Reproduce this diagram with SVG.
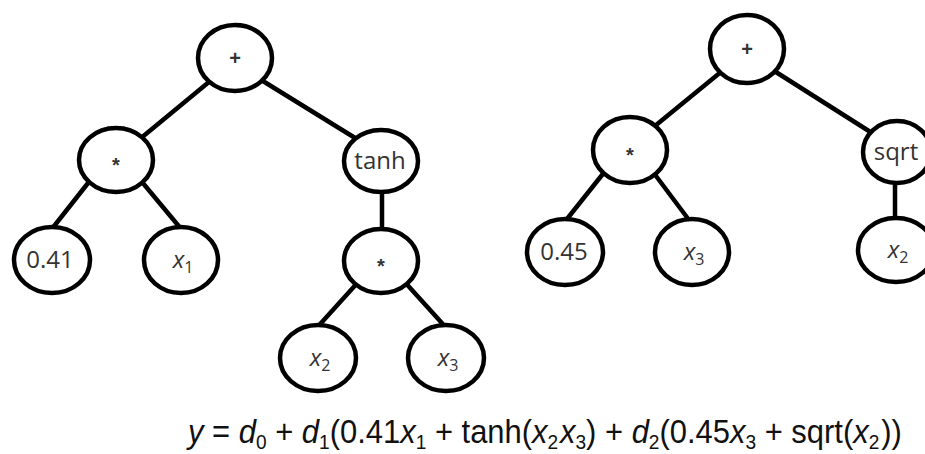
<svg xmlns="http://www.w3.org/2000/svg" width="925" height="454" viewBox="0 0 925 454">
<style>
.edge{stroke:#000;stroke-width:4.5;stroke-linecap:round;fill:none}
.node{fill:#fff;stroke:#000;stroke-width:4.5}
.lbl{font-family:"Open Sans","Liberation Sans",sans-serif;font-size:24px;fill:#333;text-anchor:middle}
.op{font-family:"Liberation Sans",sans-serif;font-size:20px;font-weight:bold;fill:#333;text-anchor:middle}
.var{font-style:italic}
.sub{font-size:16px;font-style:normal}
.eq{font-family:"Liberation Sans",Arial,sans-serif;font-size:34px;fill:#111}
.eqs{font-size:21px;font-style:normal}
</style>
<rect width="925" height="454" fill="#fff"/>
<g id="connectors">
<line class="edge" x1="215" y1="77" x2="135" y2="143"/>
<line class="edge" x1="258" y1="78" x2="360" y2="141"/>
<line class="edge" x1="92" y1="178" x2="51" y2="230"/>
<line class="edge" x1="137" y1="176" x2="182" y2="230"/>
<line class="edge" x1="382" y1="185" x2="382" y2="235"/>
<line class="edge" x1="360" y1="280" x2="313" y2="332"/>
<line class="edge" x1="402" y1="279" x2="450" y2="332"/>
<line class="edge" x1="727" y1="67" x2="650" y2="130"/>
<line class="edge" x1="768" y1="67" x2="872" y2="133"/>
<line class="edge" x1="606" y1="170" x2="563" y2="224"/>
<line class="edge" x1="650" y1="168" x2="692" y2="224"/>
<line class="edge" x1="895" y1="175" x2="895" y2="225"/>
</g>
<g id="plus1"><ellipse class="node" cx="235" cy="58" rx="37" ry="33"/><text class="op" x="235" y="65">+</text></g>
<g id="mul1"><ellipse class="node" cx="116" cy="160" rx="37" ry="32"/><text class="op" x="116" y="172">*</text></g>
<g id="tanh"><ellipse class="node" cx="381" cy="161" rx="37" ry="31"/><text class="lbl" x="380" y="169">tanh</text></g>
<g id="c041"><ellipse class="node" cx="52" cy="260" rx="38" ry="33"/><text class="lbl" x="50" y="268">0.41</text></g>
<g id="x1a"><ellipse class="node" cx="181" cy="260" rx="37" ry="33"/><text class="lbl" x="183" y="268"><tspan class="var">x</tspan><tspan class="sub" dy="5">1</tspan></text></g>
<g id="mul2"><ellipse class="node" cx="381" cy="261" rx="37" ry="32"/><text class="op" x="381" y="273">*</text></g>
<g id="x2a"><ellipse class="node" cx="318" cy="358" rx="38" ry="33"/><text class="lbl" x="320" y="366"><tspan class="var">x</tspan><tspan class="sub" dy="5">2</tspan></text></g>
<g id="x3a"><ellipse class="node" cx="446" cy="358" rx="38" ry="33"/><text class="lbl" x="448" y="366"><tspan class="var">x</tspan><tspan class="sub" dy="5">3</tspan></text></g>
<g id="plus2"><ellipse class="node" cx="747" cy="49" rx="37" ry="34"/><text class="op" x="747" y="56">+</text></g>
<g id="mul3"><ellipse class="node" cx="630" cy="150" rx="37" ry="33"/><text class="op" x="630" y="162">*</text></g>
<g id="sqrt"><ellipse class="node" cx="897" cy="152" rx="34" ry="31"/><text class="lbl" x="896" y="160">sqrt</text></g>
<g id="c045"><ellipse class="node" cx="565" cy="252" rx="38" ry="33"/><text class="lbl" x="564" y="260">0.45</text></g>
<g id="x3b"><ellipse class="node" cx="692" cy="252" rx="37" ry="33"/><text class="lbl" x="694" y="260"><tspan class="var">x</tspan><tspan class="sub" dy="5">3</tspan></text></g>
<g id="x2b"><ellipse class="node" cx="896" cy="250" rx="38" ry="32"/><text class="lbl" x="898" y="258"><tspan class="var">x</tspan><tspan class="sub" dy="5">2</tspan></text></g>
<g id="formula">
<text class="eq" transform="translate(188,443) scale(0.91,1)" x="0" y="0"><tspan class="var">y</tspan> = <tspan class="var">d</tspan><tspan class="eqs" dy="6">0</tspan><tspan dy="-6"> + </tspan><tspan class="var">d</tspan><tspan class="eqs" dy="6">1</tspan><tspan dy="-6">(0.41</tspan><tspan class="var">x</tspan><tspan class="eqs" dy="6">1</tspan><tspan dy="-6"> + tanh(</tspan><tspan class="var">x</tspan><tspan class="eqs" dy="6">2</tspan><tspan class="var" dy="-6" dx="2">x</tspan><tspan class="eqs" dy="6">3</tspan><tspan dy="-6">) + </tspan><tspan class="var">d</tspan><tspan class="eqs" dy="6">2</tspan><tspan dy="-6">(0.45</tspan><tspan class="var">x</tspan><tspan class="eqs" dy="6">3</tspan><tspan dy="-6"> + sqrt(</tspan><tspan class="var">x</tspan><tspan class="eqs" dy="6">2</tspan><tspan dy="-6" dx="2">))</tspan></text>
</g>
</svg>
